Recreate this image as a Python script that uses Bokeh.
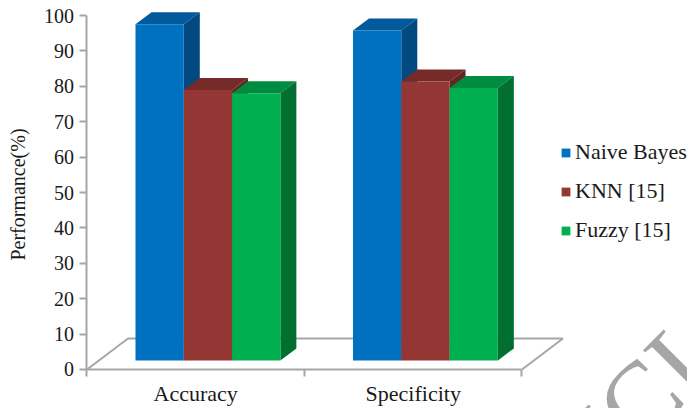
from math import pi

from bokeh.embed import file_html
from bokeh.models import FixedTicker, Label, Legend, LegendItem, Range1d
from bokeh.plotting import figure
from bokeh.resources import INLINE

categories = ["Accuracy", "Specificity"]
series_names = ["Naive Bayes", "KNN [15]", "Fuzzy [15]"]
naive_bayes = [95, 93.2]
knn = [76.4, 78.8]
fuzzy = [75.5, 77]
y_ticks = list(range(0, 101, 10))

SERIF = "Liberation Serif"
GRAY = "#a6a6a6"
INK = "#1a1a1a"
front_colors = ["#0070c0", "#943634", "#00b050"]
top_colors = ["#005a9c", "#772b29", "#008c40"]
side_colors = ["#004a80", "#632422", "#006f30"]

# Projection of the pseudo-3D box, in data units
BAR_W = 0.222
BAR_X0 = 0.223
BASE = 2.54
DX, DY = 0.0736, 3.4
FLOOR_DX, FLOOR_DY = 0.1885, 8.76

# The frame fills the page; both axes are pinned at the data origin
p = figure(width=687, height=408, output_backend="svg", toolbar_location=None,
           x_range=Range1d(-0.3977, 2.761), y_range=Range1d(-11.02, 104.24),
           min_border=0, outline_line_color=None)
p.grid.visible = False

# Floor of the 3D box
p.line([0, FLOOR_DX, 2 + FLOOR_DX, 2], [0, FLOOR_DY, FLOOR_DY, 0], line_color=GRAY, line_width=2)

legend_items = []
for s, values in enumerate([naive_bayes, knn, fuzzy]):
    fronts = []
    for g, v in enumerate(values):
        x0 = g + BAR_X0 + s * BAR_W
        x1 = x0 + BAR_W
        top = v + BASE
        p.patch([x0, x0 + DX, x1 + DX, x1], [top, top + DY, top + DY, top],
                fill_color=top_colors[s], line_color=None)
        p.patch([x1, x1 + DX, x1 + DX, x1], [BASE, BASE + DY, top + DY, top],
                fill_color=side_colors[s], line_color=None)
        fronts.append(p.quad(left=x0, right=x1, bottom=BASE, top=top,
                             fill_color=front_colors[s], line_color=None))
    legend_items.append(LegendItem(label=series_names[s], renderers=[fronts[0]]))

legend = Legend(items=legend_items, location=(560, 165), background_fill_alpha=0,
                border_line_color=None, glyph_width=11, glyph_height=11,
                label_text_font=SERIF, label_text_font_size="22px", label_text_color=INK,
                spacing=13, padding=0, margin=0, label_standoff=4, label_height=23)
p.add_layout(legend)

xa = p.xaxis[0]
xa.fixed_location = 0
xa.bounds = (0, 2)
xa.ticker = FixedTicker(ticks=[g + 0.5 for g in range(len(categories))], minor_ticks=[0, 1, 2])
xa.major_label_overrides = {g + 0.5: c for g, c in enumerate(categories)}
xa.major_tick_line_color = None
xa.major_tick_out = 0
xa.minor_tick_out = 7
xa.minor_tick_in = 0
xa.minor_tick_line_color = GRAY
xa.minor_tick_line_width = 2
xa.axis_line_color = GRAY
xa.axis_line_width = 2
xa.major_label_standoff = 5
xa.major_label_text_font = SERIF
xa.major_label_text_font_size = "22px"
xa.major_label_text_color = INK

ya = p.yaxis[0]
ya.fixed_location = 0
ya.bounds = (0, 100)
ya.ticker = FixedTicker(ticks=y_ticks)
ya.minor_tick_line_color = None
ya.major_tick_out = 7
ya.major_tick_in = 0
ya.major_tick_line_color = GRAY
ya.major_tick_line_width = 2
ya.axis_line_color = GRAY
ya.axis_line_width = 2
ya.major_label_standoff = 6
ya.major_label_text_font = SERIF
ya.major_label_text_font_size = "20px"
ya.major_label_text_color = INK

# Axis title, left of the tick labels
p.add_layout(Label(x=17, y=214, x_units="screen", y_units="screen", text="Performance(%)",
                   angle=pi / 2, text_align="center", text_baseline="middle",
                   text_font=SERIF, text_font_size="20px", text_color=INK))

# Diagonal watermark running off the lower-right corner
p.add_layout(Label(x=631, y=-83, x_units="screen", y_units="screen", text="ICL",
                   angle=pi / 4, text_font=SERIF, text_font_size="105px", text_color=GRAY))

open("out.html", "w").write(file_html(p, INLINE))
